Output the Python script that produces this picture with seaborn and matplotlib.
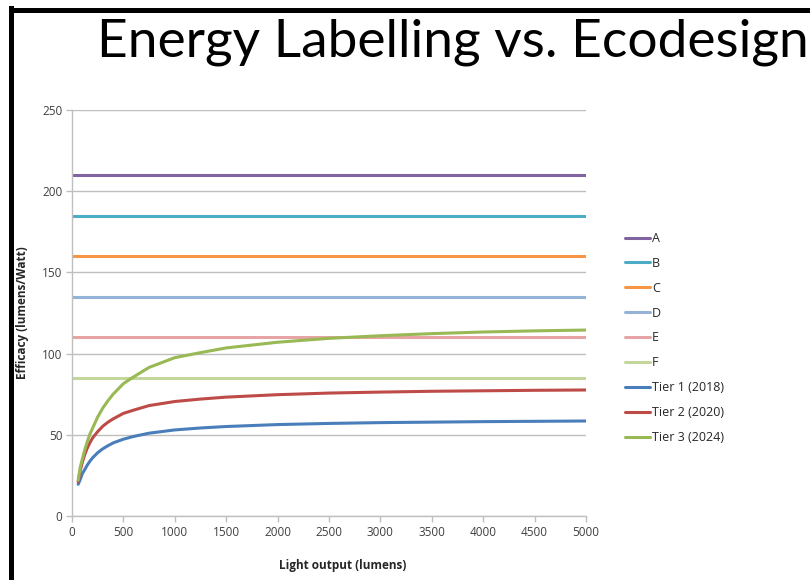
import numpy as np
import pandas as pd
import matplotlib
matplotlib.use("Agg")
import matplotlib.pyplot as plt
import seaborn as sns
from matplotlib.lines import Line2D

# Energy label class thresholds (lumens/Watt)
classes = ["A", "B", "C", "D", "E", "F"]
class_values = [210, 185, 160, 135, 110, 85]
class_colors = ["#8064A2", "#4BACC6", "#F79646", "#95B3D7", "#E6A5A4", "#C3D69B"]

# Ecodesign tiers
lumens = [60, 80, 100, 125, 150, 175, 200, 250, 300, 350, 400, 500, 600, 750,
          1000, 1250, 1500, 2000, 2500, 3000, 3500, 4000, 4500, 5000]
tier1 = [19.5, 22.5, 26, 28.7, 31.5, 33.8, 35.8, 39, 41.4, 43.3, 45, 47.3, 49, 51,
         53, 54.2, 55.1, 56.3, 57, 57.5, 57.8, 58.1, 58.3, 58.5]
tier2 = [21, 28, 33, 38, 42, 45.2, 48, 52, 55.3, 57.8, 59.8, 63.2, 65.2, 68,
         70.5, 72, 73.2, 74.7, 75.7, 76.3, 76.8, 77.1, 77.4, 77.6]
tier3 = [22, 30, 35, 41, 46, 50.6, 54, 61, 66.5, 71, 75, 81.5, 85.7, 91.5,
         97.5, 100.6, 103.5, 107, 109.4, 111, 112.3, 113.3, 114, 114.5]
tier_names = ["Tier 1 (2018)", "Tier 2 (2020)", "Tier 3 (2024)"]
tier_colors = ["#4A7EBB", "#BE4B48", "#98B954"]

sns.set_style("white")
plt.rcParams["font.family"] = ["Open Sans", "DejaVu Sans"]

fig = plt.figure(figsize=(8.1, 5.8), dpi=100)
ax = fig.add_axes([72 / 810, 64 / 580, 514 / 810, 406 / 580])

# horizontal class lines
for name, val, col in zip(classes, class_values, class_colors):
    df = pd.DataFrame({"x": [0, 5000], "y": [val, val]})
    sns.lineplot(data=df, x="x", y="y", color=col, lw=2.2, ax=ax, label=name)

for name, vals, col in zip(tier_names, [tier1, tier2, tier3], tier_colors):
    df = pd.DataFrame({"x": lumens, "y": vals})
    sns.lineplot(data=df, x="x", y="y", color=col, lw=2.2, ax=ax, label=name)

ax.set_xlim(0, 5000)
ax.set_ylim(0, 250)
ax.set_xticks(range(0, 5001, 500))
ax.set_yticks(range(0, 251, 50))
ax.yaxis.grid(True, color="#BFBFBF", lw=1)
ax.xaxis.grid(False)
ax.set_axisbelow(True)
for s in ["top", "right"]:
    ax.spines[s].set_visible(False)
for s in ["left", "bottom"]:
    ax.spines[s].set_color("#BFBFBF")
    ax.spines[s].set_linewidth(1)
ax.tick_params(axis="both", direction="out", length=4, width=1, color="#BFBFBF",
               labelsize=8.5, labelcolor="#404040", pad=3, bottom=True, left=True)
ax.set_xlabel("Light output (lumens)", fontsize=8.5, fontweight="bold")
ax.set_ylabel("Efficacy (lumens/Watt)", fontsize=8.5, fontweight="bold")
ax.xaxis.set_label_coords(0.527, -0.105)
ax.yaxis.set_label_coords(-0.083, 0.5)

handles, labels = ax.get_legend_handles_labels()
ax.get_legend().remove()
fig.legend(handles, labels, loc="upper left", bbox_to_anchor=(620 / 810, 1 - 227 / 580),
           frameon=False, fontsize=9, handlelength=2.0, handletextpad=0.15,
           labelspacing=0.95, borderaxespad=0)

fig.text(97 / 810, 1 - 57 / 580, "Energy Labelling vs. Ecodesign", fontsize=38.3,
         family=["Lato", "DejaVu Sans"], color="black", ha="left", va="baseline")

# slide frame
fig.add_artist(Line2D([10.5 / 810, 10.5 / 810], [0, 1 - 8 / 580], color="black",
                      lw=3.6, transform=fig.transFigure, solid_capstyle="projecting"))
fig.add_artist(Line2D([10.5 / 810, 1], [1 - 10 / 580, 1 - 10 / 580], color="black",
                      lw=3.6, transform=fig.transFigure, solid_capstyle="projecting"))

fig.savefig("out.png", dpi=100)
